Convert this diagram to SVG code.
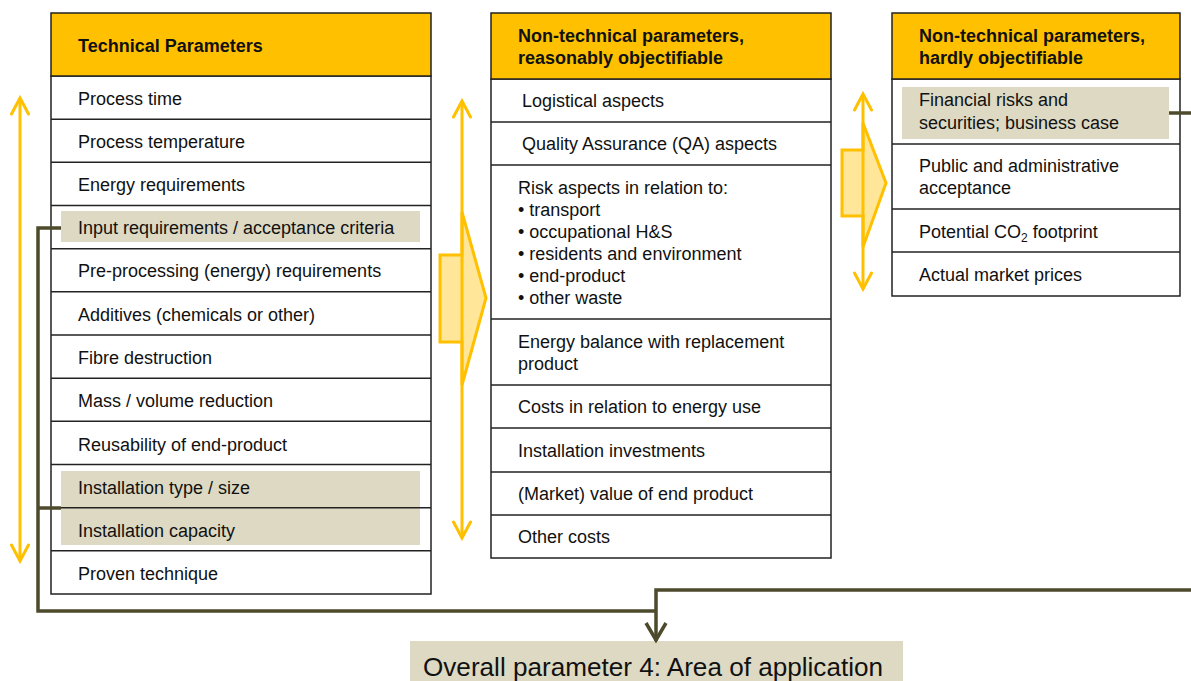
<svg xmlns="http://www.w3.org/2000/svg" width="1191" height="681" viewBox="0 0 1191 681">
<style>
.t{font-family:"Liberation Sans",Arial,sans-serif;font-size:18px;fill:#111}
.h{font-family:"Liberation Sans",Arial,sans-serif;font-size:18px;font-weight:bold;fill:#111}
.hdr{fill:#FFC000;stroke:#222;stroke-width:1.5}
.cell{fill:#fff;stroke:#222;stroke-width:1.5}
.hl{fill:#DDD9C3}
.rl{stroke:#222;stroke-width:1.5}
.ya{stroke:#FFC000;stroke-width:3;fill:none}
.big{fill:#FFE699;stroke:#FFC000;stroke-width:3;stroke-linejoin:miter}
.con{stroke:#4E4A2C;stroke-width:3.5;fill:none}
</style>
<defs>
<marker id="chev" viewBox="-19 -11 22 22" markerWidth="22" markerHeight="22" markerUnits="userSpaceOnUse" refX="0" refY="0" orient="auto-start-reverse">
<path d="M -16 -8.5 L 0 0 L -16 8.5" fill="none" stroke="#FFC000" stroke-width="3" stroke-linecap="round"/>
</marker>
<marker id="dchev" viewBox="-21 -13 24 26" markerWidth="24" markerHeight="26" markerUnits="userSpaceOnUse" refX="0" refY="0" orient="auto">
<path d="M -18 -10 L -1 0 L -18 10" fill="none" stroke="#4E4A2C" stroke-width="3.5"/>
</marker>
</defs>
<rect width="1191" height="681" fill="#fff"/>

<g id="technical">
<rect class="cell" x="51" y="76" width="380" height="518"/>
<rect class="hdr" x="51" y="13" width="380" height="63"/>
<rect class="hl" x="61" y="211" width="359" height="31"/>
<rect class="hl" x="61" y="471" width="359" height="74"/>
<g class="rl">
<line x1="51" y1="119.2" x2="431" y2="119.2"/>
<line x1="51" y1="162.3" x2="431" y2="162.3"/>
<line x1="51" y1="205.5" x2="431" y2="205.5"/>
<line x1="51" y1="248.7" x2="431" y2="248.7"/>
<line x1="51" y1="291.8" x2="431" y2="291.8"/>
<line x1="51" y1="335" x2="431" y2="335"/>
<line x1="51" y1="378.2" x2="431" y2="378.2"/>
<line x1="51" y1="421.3" x2="431" y2="421.3"/>
<line x1="51" y1="464.5" x2="431" y2="464.5"/>
<line x1="51" y1="507.7" x2="431" y2="507.7"/>
<line x1="51" y1="550.8" x2="431" y2="550.8"/>
</g>
<text class="h" x="78" y="52">Technical Parameters</text>
<text class="t" x="78" y="105">Process time</text>
<text class="t" x="78" y="148">Process temperature</text>
<text class="t" x="78" y="191">Energy requirements</text>
<text class="t" x="78" y="234">Input requirements  / acceptance criteria</text>
<text class="t" x="78" y="277">Pre-processing (energy) requirements</text>
<text class="t" x="78" y="321">Additives (chemicals or other)</text>
<text class="t" x="78" y="364">Fibre destruction</text>
<text class="t" x="78" y="407">Mass / volume reduction</text>
<text class="t" x="78" y="451">Reusability of end-product</text>
<text class="t" x="78" y="494">Installation type / size</text>
<text class="t" x="78" y="537">Installation capacity</text>
<text class="t" x="78" y="580">Proven technique</text>
</g>

<g id="reasonably">
<rect class="cell" x="491" y="79" width="340" height="479"/>
<rect class="hdr" x="491" y="13" width="340" height="66"/>
<g class="rl">
<line x1="491" y1="122" x2="831" y2="122"/>
<line x1="491" y1="165" x2="831" y2="165"/>
<line x1="491" y1="319" x2="831" y2="319"/>
<line x1="491" y1="385" x2="831" y2="385"/>
<line x1="491" y1="428" x2="831" y2="428"/>
<line x1="491" y1="472" x2="831" y2="472"/>
<line x1="491" y1="515" x2="831" y2="515"/>
</g>
<text class="h" x="518" y="42">Non-technical parameters,</text>
<text class="h" x="518" y="64">reasonably objectifiable</text>
<text class="t" x="522" y="107">Logistical aspects</text>
<text class="t" x="522" y="150">Quality Assurance (QA) aspects</text>
<text class="t" x="518" y="194">Risk aspects in relation to:</text>
<text class="t" x="518" y="216">• transport</text>
<text class="t" x="518" y="238">• occupational H&amp;S</text>
<text class="t" x="518" y="260">• residents and environment</text>
<text class="t" x="518" y="282">• end-product</text>
<text class="t" x="518" y="304">• other waste</text>
<text class="t" x="518" y="348">Energy balance with replacement</text>
<text class="t" x="518" y="370">product</text>
<text class="t" x="518" y="413">Costs in relation to energy use</text>
<text class="t" x="518" y="457">Installation investments</text>
<text class="t" x="518" y="500">(Market) value of end product</text>
<text class="t" x="518" y="543">Other costs</text>
</g>

<g id="hardly">
<rect class="cell" x="892" y="79" width="288" height="217"/>
<rect class="hdr" x="892" y="13" width="288" height="66"/>
<rect class="hl" x="902" y="87" width="267" height="52"/>
<g class="rl">
<line x1="892" y1="144" x2="1180" y2="144"/>
<line x1="892" y1="209" x2="1180" y2="209"/>
<line x1="892" y1="252" x2="1180" y2="252"/>
</g>
<text class="h" x="919" y="42">Non-technical  parameters,</text>
<text class="h" x="919" y="64">hardly objectifiable</text>
<text class="t" x="919" y="106">Financial risks and</text>
<text class="t" x="919" y="129">securities; business case</text>
<text class="t" x="919" y="172">Public and administrative</text>
<text class="t" x="919" y="194">acceptance</text>
<text class="t" x="919" y="238">Potential CO<tspan font-size="12" dy="4">2</tspan><tspan dy="-4"> footprint</tspan></text>
<text class="t" x="919" y="281">Actual market prices</text>
</g>

<g id="overall">
<rect class="hl" x="410" y="641" width="493" height="40"/>
<text x="423" y="676" font-family="'Liberation Sans',Arial,sans-serif" font-size="26" fill="#111" textLength="460" lengthAdjust="spacingAndGlyphs">Overall parameter 4: Area of application</text>
</g>

<g id="connectors">
<polygon class="big" points="440,255 462,255 462,212 486,298 462,385 462,342 440,342"/>
<polygon class="big" points="842,150 863,150 863,123 886,183 863,247 863,216 842,216"/>
<line class="ya" x1="20" y1="98" x2="20" y2="561" marker-start="url(#chev)" marker-end="url(#chev)"/>
<line class="ya" x1="462" y1="101" x2="462" y2="538" marker-start="url(#chev)" marker-end="url(#chev)"/>
<line class="ya" x1="863" y1="94" x2="863" y2="289" marker-start="url(#chev)" marker-end="url(#chev)"/>
<path class="con" d="M61 228 H38 V611 H656"/>
<path class="con" d="M61 508 H38"/>
<path class="con" d="M1169 113 H1193"/>
<path class="con" d="M1193 590 H656 V641" marker-end="url(#dchev)"/>
</g>
</svg>
